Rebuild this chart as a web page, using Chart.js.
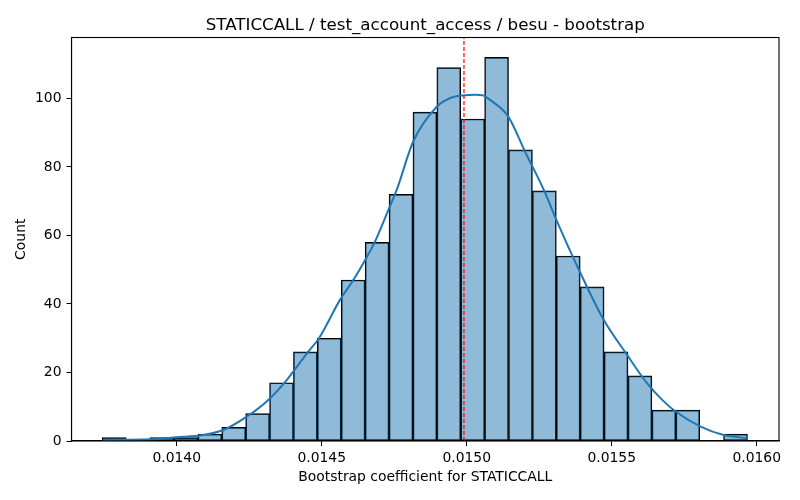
<!DOCTYPE html>
<html>
<head>
<meta charset="utf-8">
<script src="https://cdn.jsdelivr.net/npm/chart.js@4/dist/chart.umd.min.js"></script>
<style>
  html, body { margin: 0; padding: 0; background: #fff; }
  #wrap { width: 800px; height: 500px; }
</style>
</head>
<body>
<div id="wrap"><canvas id="c" width="800" height="500"></canvas></div>
<script>
// ---- data ----
const titleText = "STATICCALL / test_account_access / besu - bootstrap";
const xLabel = "Bootstrap coefficient for STATICCALL";
const yLabel = "Count";

// histogram bin centers (coefficient) and counts
const binCenters = [
  0.0137846, 0.0138670, 0.0139494, 0.0140318, 0.0141142, 0.0141966, 0.0142790,
  0.0143614, 0.0144438, 0.0145262, 0.0146086, 0.0146910, 0.0147734, 0.0148558,
  0.0149382, 0.0150206, 0.0151030, 0.0151854, 0.0152678, 0.0153502, 0.0154326,
  0.0155150, 0.0155974, 0.0156798, 0.0157622, 0.0158446, 0.0159270
];
const binCounts = [
  1, 0, 1, 1, 2, 4, 8,
  17, 26, 30, 47, 58, 72, 96,
  109, 94, 112, 85, 73, 54, 45,
  26, 19, 9, 9, 0, 2
];

// KDE curve (scaled to counts)
const kdeX = [
  0.0137451, 0.0139096, 0.0140000, 0.0140917, 0.0141607, 0.0142414, 0.0143159,
  0.0143793, 0.0144538, 0.0144883, 0.0145631, 0.0146090, 0.0146493, 0.0146838,
  0.0147297, 0.0147586, 0.0148159, 0.0148966, 0.0149400, 0.0149872, 0.0150300,
  0.0150562, 0.0150803, 0.0151434, 0.0152010, 0.0152659, 0.0153121, 0.0153924,
  0.0154728, 0.0155534, 0.0156224, 0.0156741, 0.0157203, 0.0158065, 0.0158859,
  0.0159676
];
const kdeY = [
  0.3, 0.5, 1.1, 1.75, 3.2, 7.1, 12.0,
  17.8, 26.1, 29.7, 41.2, 47.0, 52.8, 58.2,
  67.4, 73.3, 87.5, 97.6, 100.0, 100.9, 101.1,
  100.9, 99.6, 94.7, 84.5, 73.3, 64.0, 49.0,
  35.3, 25.1, 16.8, 12.0, 8.6, 4.2, 1.75,
  0.8
];

// mean marker (red dashed line)
const meanValue = 0.0149906;

// axes
const xMin = 0.0136372;
const xMax = 0.0160769;
const yMin = 0;
const yMax = 117.8;
const xTicks = [0.0140, 0.0145, 0.0150, 0.0155, 0.0160];
const yTicks = [0, 20, 40, 60, 80, 100];

// ---- build chart ----
const histData = binCenters.map((x, i) => ({ x: x, y: binCounts[i] }));
const kdeData = kdeX.map((x, i) => ({ x: x, y: kdeY[i] }));
const meanData = [{ x: meanValue, y: yMin }, { x: meanValue, y: yMax }];

const FONT = "'DejaVu Sans', sans-serif";

const framePlugin = {
  id: 'frame',
  afterDatasetsDraw(chart) {
    const a = chart.chartArea;
    const ctx = chart.ctx;
    ctx.save();
    ctx.strokeStyle = '#000';
    ctx.lineWidth = 1.1;
    ctx.strokeRect(a.left, a.top, a.right - a.left, a.bottom - a.top);
    ctx.restore();
  }
};

// title centred over the plotting area (as matplotlib does)
const areaTitlePlugin = {
  id: 'areaTitle',
  afterDraw(chart) {
    const a = chart.chartArea;
    const ctx = chart.ctx;
    ctx.save();
    ctx.fillStyle = '#000';
    ctx.font = "16.7px " + FONT;
    ctx.textAlign = 'center';
    ctx.textBaseline = 'alphabetic';
    ctx.fillText(titleText, (a.left + a.right) / 2, a.top - 8);
    ctx.restore();
  }
};

new Chart(document.getElementById('c'), {
  type: 'bar',
  data: {
    datasets: [
      {
        type: 'line',
        data: meanData,
        borderColor: '#ff0000',
        borderWidth: 1.2,
        borderDash: [4, 2],
        pointRadius: 0,
        fill: false,
        order: 1
      },
      {
        type: 'line',
        data: kdeData,
        borderColor: '#1f77b4',
        borderWidth: 2,
        pointRadius: 0,
        fill: false,
        cubicInterpolationMode: 'monotone',
        order: 2
      },
      {
        type: 'bar',
        data: histData,
        backgroundColor: 'rgba(31,119,180,0.5)',
        borderColor: '#000000',
        borderWidth: 1,
        borderSkipped: false,
        barPercentage: 1.0,
        categoryPercentage: 1.0,
        order: 3
      }
    ]
  },
  options: {
    responsive: false,
    animation: false,
    devicePixelRatio: 1,
    layout: { padding: { top: 37.5, left: 0, right: 21, bottom: 0 } },
    plugins: {
      legend: { display: false },
      tooltip: { enabled: false },
      title: { display: false }
    },
    scales: {
      x: {
        type: 'linear',
        min: xMin,
        max: xMax,
        offset: false,
        grid: { offset: false, drawOnChartArea: false, drawTicks: true, tickLength: 5, color: '#000', lineWidth: 1 },
        border: { display: true, color: '#000', width: 1.1 },
        afterBuildTicks(scale) { scale.ticks = xTicks.map(v => ({ value: v })); },
        afterFit(scale) { scale.height = 59; },
        ticks: {
          color: '#000',
          padding: 4.5,
          maxRotation: 0,
          font: { family: FONT, size: 13.9 },
          callback: (v) => Number(v).toFixed(4)
        },
        title: {
          display: true,
          text: xLabel,
          color: '#000',
          font: { family: FONT, size: 13.9 },
          padding: { top: 0, bottom: 14.5 }
        }
      },
      y: {
        type: 'linear',
        min: yMin,
        max: yMax,
        grid: { drawOnChartArea: false, drawTicks: true, tickLength: 5, color: '#000', lineWidth: 1 },
        border: { display: true, color: '#000', width: 1.1 },
        afterBuildTicks(scale) { scale.ticks = yTicks.map(v => ({ value: v })); },
        afterFit(scale) { scale.width = 71.5; },
        ticks: {
          color: '#000',
          padding: 5,
          font: { family: FONT, size: 13.9 }
        },
        title: {
          display: true,
          text: yLabel,
          color: '#000',
          font: { family: FONT, size: 13.9 },
          padding: { top: 13.5, bottom: 0 }
        }
      }
    }
  },
  plugins: [framePlugin, areaTitlePlugin]
});
</script>
</body>
</html>
